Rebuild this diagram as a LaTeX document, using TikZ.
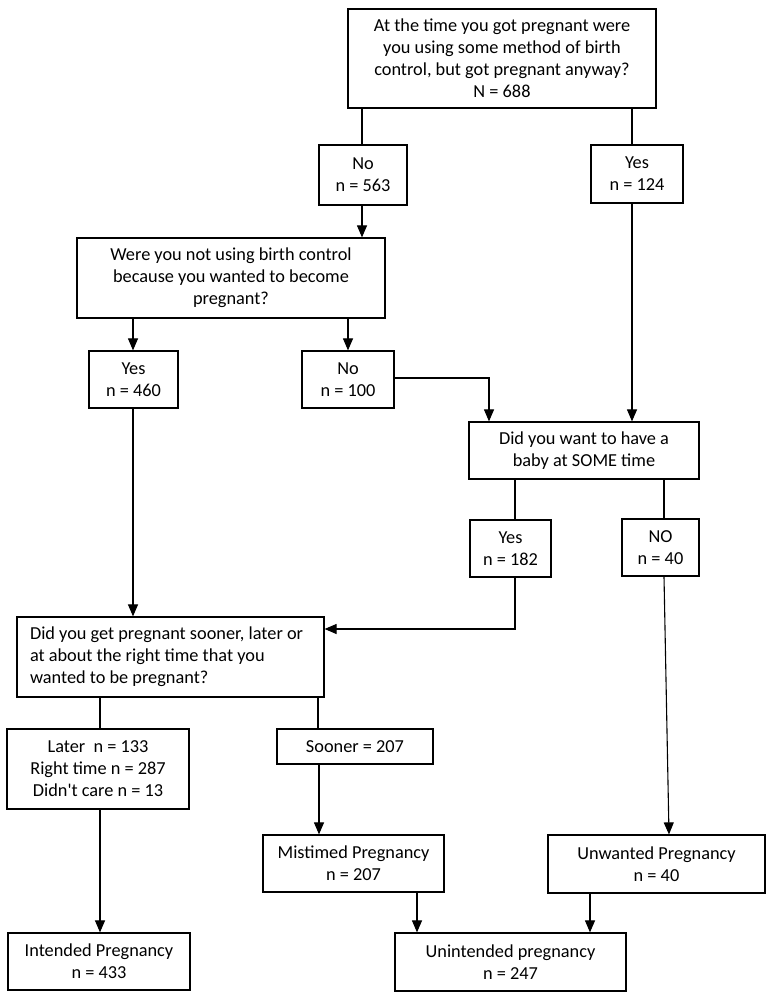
\documentclass[tikz,border=0pt]{standalone}
\usepackage{fontspec}
\setmainfont{Carlito}
\usetikzlibrary{arrows.meta}
\begin{document}
\begin{tikzpicture}[x=1pt,y=-1pt,
  box/.style={draw=black,line width=1.2pt,align=flush center,inner sep=0pt,
    font=\fontsize{18.3}{22}\selectfont},
  link/.style={draw=black,line width=1.1pt},
  arr/.style={link,-{Triangle[width=10pt,length=12pt]}}]
\useasboundingbox[fill=white] (0,0) rectangle (769,999);
% nodes
\node[box,minimum width=308pt,minimum height=99pt] (top) at (502,58.5)
  {At the time you got pregnant were\\you using some method of birth\\control, but got pregnant anyway?\\N = 688};
\node[box,minimum width=88pt,minimum height=60pt] (no1) at (363,175) {No\\n = 563};
\node[box,minimum width=92pt,minimum height=58pt] (yes1) at (637,174) {Yes\\n = 124};
\node[box,minimum width=308pt,minimum height=80pt] (q2) at (231,278)
  {Were you not using birth control\\because you wanted to become\\pregnant?};
\node[box,minimum width=89pt,minimum height=57pt] (yes2) at (133.5,379.5) {Yes\\n = 460};
\node[box,minimum width=92pt,minimum height=57pt] (no2) at (348,379.5) {No\\n = 100};
\node[box,minimum width=230pt,minimum height=57pt] (q3) at (584,450.5)
  {Did you want to have a\\baby at SOME time};
\node[box,minimum width=81pt,minimum height=57pt] (yes3) at (510.5,548.5) {Yes\\n = 182};
\node[box,minimum width=77pt,minimum height=57pt] (no3) at (660.5,547.5) {NO\\n = 40};
\node[box,minimum width=307pt,minimum height=80pt,align=flush left,text width=281pt,inner xsep=13pt] (q4) at (170.5,657)
  {Did you get pregnant sooner, later or\\at about the right time that you\\wanted to be pregnant?};
\node[box,minimum width=182pt,minimum height=80pt] (later) at (98,769)
  {Later~~n = 133\\Right time n = 287\\Didn\textquotesingle t care n = 13};
\node[box,minimum width=156pt,minimum height=35pt] (sooner) at (355,746.5) {Sooner = 207};
\node[box,minimum width=181pt,minimum height=57pt] (mis) at (353.5,863.5) {Mistimed Pregnancy\\n = 207};
\node[box,minimum width=217pt,minimum height=58pt] (unw) at (656.5,864) {Unwanted Pregnancy\\n = 40};
\node[box,minimum width=182pt,minimum height=57pt] (int) at (99,961.5) {Intended Pregnancy\\n = 433};
\node[box,minimum width=231pt,minimum height=58pt] (unint) at (510.5,962) {Unintended pregnancy\\n = 247};
% connectors
\draw[link] (362,0 |- top.south) -- (362,0 |- no1.north);
\draw[link] (632,0 |- top.south) -- (632,0 |- yes1.north);
\draw[arr] (362,0 |- no1.south) -- (362,0 |- q2.north);
\draw[arr] (133,0 |- q2.south) -- (133,0 |- yes2.north);
\draw[arr] (348,0 |- q2.south) -- (348,0 |- no2.north);
\draw[arr] (no2.east |- 0,378) -| (489,0 |- q3.north);
\draw[arr] (632,0 |- yes1.south) -- (632,0 |- q3.north);
\draw[link] (515,0 |- q3.south) -- (515,0 |- yes3.north);
\draw[link] (664,0 |- q3.south) -- (664,0 |- no3.north);
\draw[arr] (515,0 |- yes3.south) |- (q4.east |- 0,629);
\draw[arr] (133,0 |- yes2.south) -- (133,0 |- q4.north);
\draw[link] (100,0 |- q4.south) -- (100,0 |- later.north);
\draw[link] (318,0 |- q4.south) -- (318,0 |- sooner.north);
\draw[arr] (100,0 |- later.south) -- (100,0 |- int.north);
\draw[arr] (319,0 |- sooner.south) -- (319,0 |- mis.north);
\draw[arr] (664,0 |- no3.south) -- (669,0 |- unw.north);
\draw[arr] (417,0 |- mis.south) -- (417,0 |- unint.north);
\draw[arr] (590,0 |- unw.south) -- (590,0 |- unint.north);
\end{tikzpicture}
\end{document}
